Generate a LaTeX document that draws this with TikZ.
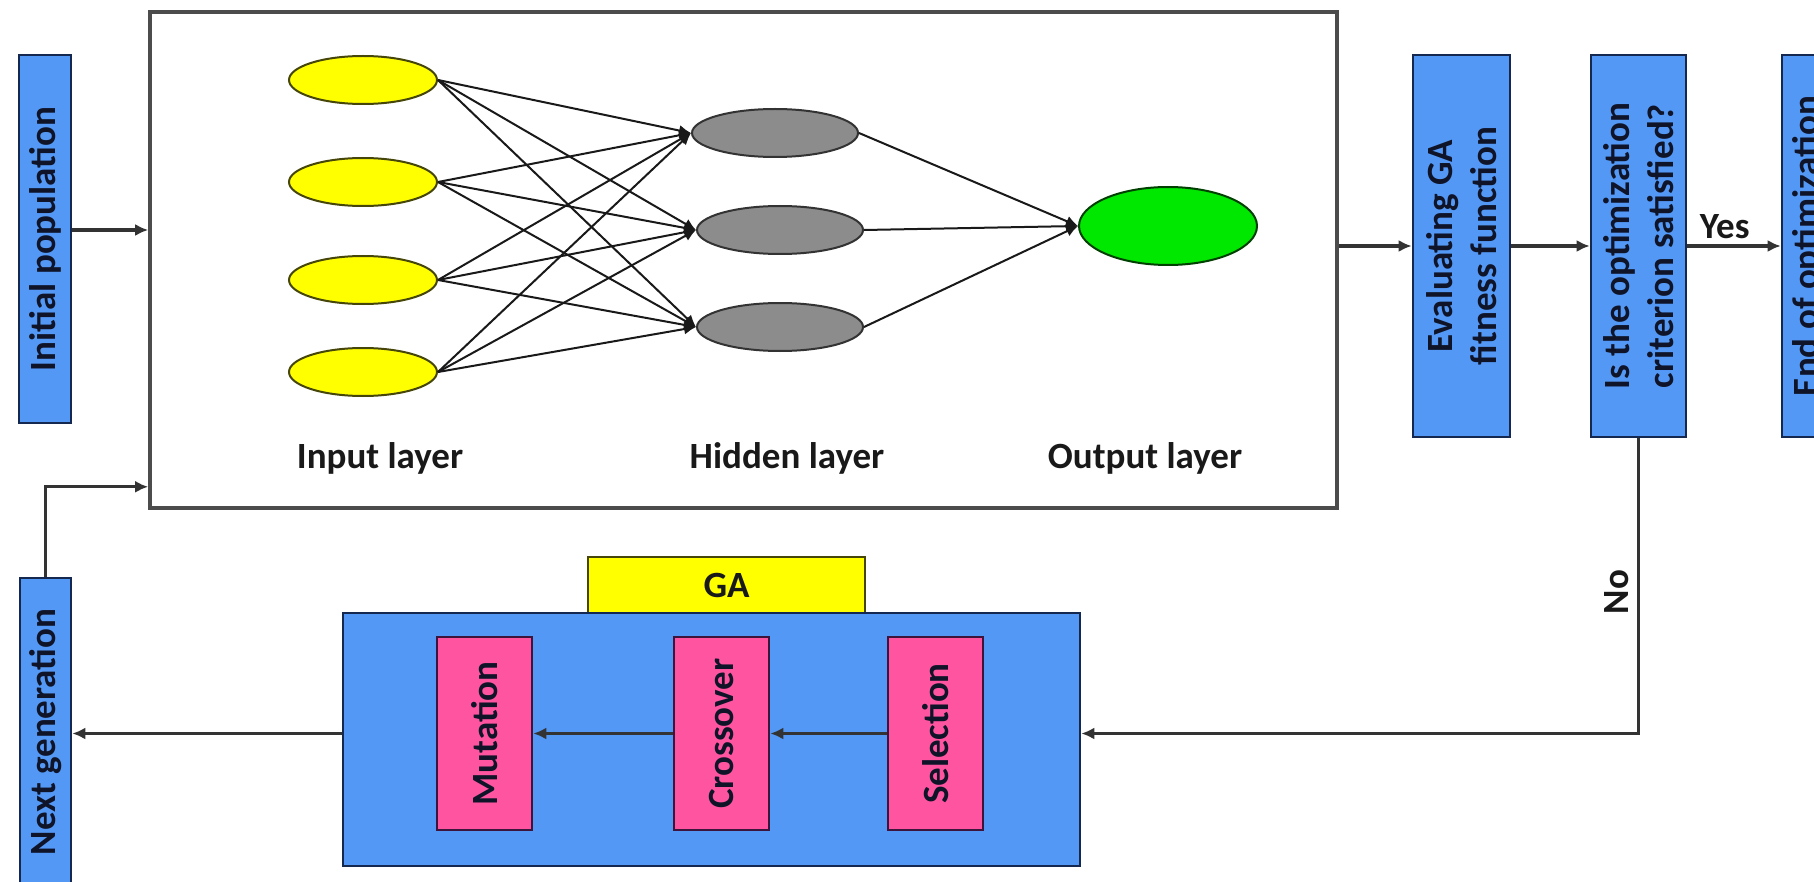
\documentclass[tikz,border=0pt]{standalone}
\usepackage{fontspec}
\setmainfont{Carlito}
\usetikzlibrary{shapes.geometric,arrows.meta,calc}
\definecolor{boxblue}{RGB}{84,152,246}
\definecolor{boxedge}{RGB}{20,40,80}
\definecolor{pinkfill}{RGB}{255,85,160}
\definecolor{pinkedge}{RGB}{60,20,60}
\definecolor{yel}{RGB}{255,255,0}
\definecolor{yeledge}{RGB}{70,70,10}
\definecolor{greyfill}{RGB}{140,140,140}
\definecolor{grn}{RGB}{0,232,0}
\definecolor{txt}{RGB}{15,20,40}
\begin{document}
\begin{tikzpicture}[x=0.5pt,y=-0.5pt,
  font=\fontsize{18.5}{22}\selectfont\bfseries,
  bluebox/.style={draw=boxedge, line width=1.3pt, fill=boxblue, inner sep=0pt},
  pinkbox/.style={draw=pinkedge, line width=1.3pt, fill=pinkfill, inner sep=0pt, minimum width=47.5pt, minimum height=96.5pt},
  vtext/.style={rotate=90, align=center, text=txt, inner sep=0pt},
  inell/.style={ellipse, draw=yeledge, line width=1pt, fill=yel, inner sep=0pt, minimum width=74pt, minimum height=24pt},
  hidell/.style={ellipse, draw=black!80, line width=1pt, fill=greyfill, inner sep=0pt, minimum width=83pt, minimum height=24pt},
  outell/.style={ellipse, draw=black!75!green, line width=1pt, fill=grn, inner sep=0pt, minimum width=89pt, minimum height=39pt},
  netl/.style={draw=black!90, line width=1pt, -{Latex[length=6pt,width=5.5pt]}},
  conn/.style={draw=black!80, line width=1.6pt, -{Latex[length=6.5pt,width=6pt]}},
  lbl/.style={text=black!90, inner sep=0pt}
]
\useasboundingbox (0,0) rectangle (1814,882);
\clip (0,0) rectangle (1814,882);

% neural network frame
\node[draw=black!70, line width=1.8pt, minimum width=593.5pt, minimum height=248pt, inner sep=0pt] (nn) at (743.5,260) {};

% layers
\foreach \i/\y in {1/80,2/182,3/280,4/372}
  \node[inell] (in\i) at (363,\y) {};
\node[hidell] (h1) at (775,133) {};
\node[hidell] (h2) at (780,230) {};
\node[hidell] (h3) at (780,327) {};
\node[outell] (out) at (1168,226) {};
\foreach \i in {1,...,4}
  \foreach \j in {1,2,3}
    \draw[netl] (in\i.east) -- (h\j.west);
\foreach \j in {1,2,3}
  \draw[netl] (h\j.east) -- (out.west);

\node[lbl] (lin) at (380,458) {Input layer};
\node[lbl] (lhid) at (787,458) {Hidden layer};
\node[lbl] (lout) at (1145,458) {Output layer};

% flow boxes
\node[bluebox, minimum width=26pt, minimum height=184pt] (init) at (45,239) {};
\node[vtext] (initt) at (init) {Initial population};
\node[bluebox, minimum width=48.5pt, minimum height=191pt] (eval) at (1461.5,246) {};
\node[vtext] (evalt) at (eval) {Evaluating GA\\fitness function};
\node[bluebox, minimum width=47.5pt, minimum height=191pt] (crit) at (1638.5,246) {};
\node[vtext] (critt) at (crit) {Is the optimization\\criterion satisfied?};
\node[bluebox, minimum width=26pt, minimum height=191pt] (endb) at (1808,246) {};
\node[vtext] (endt) at (endb) {End of optimization};
\node[bluebox, minimum width=25.5pt, minimum height=154pt] (nextgen) at (45.5,732) {};
\node[vtext] (nextt) at (nextgen) {Next generation};

% GA block
\node[draw=yeledge, fill=yel, line width=1.3pt, minimum width=138.5pt, minimum height=28pt, inner sep=0pt, text=black!90] (gal) at (726.5,585) {GA};
\node[bluebox, minimum width=368.5pt, minimum height=126.5pt] (ga) at (711.5,739.5) {};
\node[pinkbox] (mut) at (484.5,733.5) {};
\node[vtext] (mutt) at (mut) {Mutation};
\node[pinkbox] (cross) at (721.5,733.5) {};
\node[vtext] (crosst) at (cross) {Crossover};
\node[pinkbox] (sel) at (935.5,733.5) {};
\node[vtext] (selt) at (sel) {Selection};

% connectors
\draw[conn] ([yshift=4.5pt]init.east) -- ([yshift=4.5pt]init.east -| nn.west);
\draw[conn] (eval.west -| nn.east) -- (eval.west);
\draw[conn] (eval.east) -- (crit.west);
\draw[conn] (crit.east) -- node[above, pos=0.4, inner sep=3pt, text=black!90] (yes) {Yes} (endb.west);
\draw[conn] (crit.south) |- (ga.east |- sel.east);
\node[rotate=90, text=black!90, inner sep=0pt] (nolab) at (1617,592) {No};
\draw[conn] (sel.west) -- (cross.east);
\draw[conn] (cross.west) -- (mut.east);
\draw[conn] (ga.west |- mut.west) -- (nextgen.east |- mut.west);
\draw[conn] (nextgen.north) |- ([yshift=11.5pt]nn.south west);
\end{tikzpicture}
\end{document}
